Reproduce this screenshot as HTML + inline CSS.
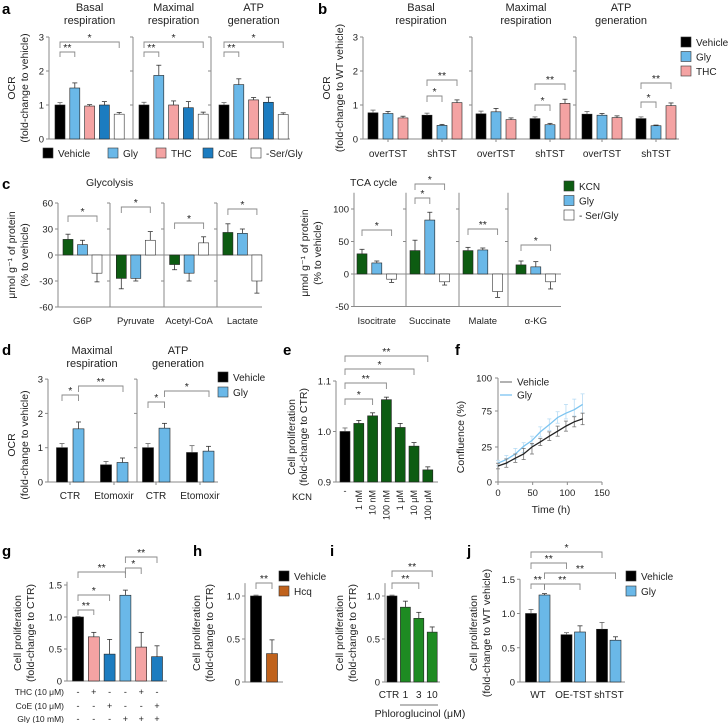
<!DOCTYPE html>
<html><head><meta charset="utf-8">
<style>
html,body{margin:0;padding:0;background:#fff;}
svg{display:block;font-family:"Liberation Sans",sans-serif;}
</style></head>
<body>
<svg id="fig" width="728" height="723" viewBox="0 0 728 723" xmlns="http://www.w3.org/2000/svg"></svg>
<script>
// ---------- DATA ----------
const aGroups = ["Basal respiration","Maximal respiration","ATP generation"];
const aSeries = ["Vehicle","Gly","THC","CoE","-Ser/Gly"];
const aValues = [[1.0,1.5,0.97,1.0,0.73],[1.0,1.87,1.0,0.92,0.73],[1.0,1.6,1.15,1.08,0.72]];
const aErrors = [[0.07,0.15,0.04,0.1,0.05],[0.08,0.3,0.12,0.18,0.06],[0.07,0.17,0.07,0.15,0.05]];
const aTicks = [0,1,2,3];

const bCats = ["overTST","shTST"];
const bSeries = ["Vehicle","Gly","THC"];
const bValues = [[[0.77,0.75,0.62],[0.7,0.4,1.07]],[[0.74,0.8,0.57],[0.6,0.42,1.05]],[[0.73,0.7,0.63],[0.6,0.39,0.98]]];
const bErrors = [[[0.08,0.06,0.05],[0.06,0.03,0.08]],[[0.08,0.1,0.05],[0.05,0.04,0.12]],[[0.08,0.05,0.05],[0.05,0.02,0.08]]];

const cGlyCats = ["G6P","Pyruvate","Acetyl-CoA","Lactate"];
const cGlyValues = [[18,12,-21],[-27,-27,17],[-11,-21,14],[26,25,-30]];
const cGlyErrors = [[6,5,10],[12,3,10],[6,9,7],[10,5,14]];
const cGlyTicks = [60,30,0,-30,-60];
const cTcaCats = ["Isocitrate","Succinate","Malate","α-KG"];
const cTcaValues = [[31,17,-8],[36,83,-12],[36,37,-27],[14,11,-12]];
const cTcaErrors = [[7,3,5],[16,12,5],[5,3,9],[6,8,11]];
const cTcaTicks = [100,50,0,-50];
const cSeries = ["KCN","Gly","- Ser/Gly"];

const dPanels = ["Maximal respiration","ATP generation"];
const dCats = ["CTR","Etomoxir"];
const dValues = [[[1.0,1.55],[0.5,0.57]],[[1.0,1.57],[0.86,0.9]]];
const dErrors = [[[0.12,0.2],[0.1,0.13]],[[0.12,0.14],[0.2,0.14]]];
const dTicks = [0,1,2,3];

const eCats = ["-","1 nM","10 nM","100 nM","1 μM","10 μM","100 μM"];
const eValues = [1.0,1.016,1.031,1.063,1.008,0.971,0.924];
const eErrors = [0.007,0.006,0.006,0.005,0.008,0.007,0.006];
const eTicks = [0.9,1.0,1.1];

const fTimes = [0,12,25,37,49,61,74,86,98,110,122];
const fVehicle = [11.4,13.5,17,20,25,32,40,47,54,60,64];
const fGly = [13.5,16,20,26,34,46,56,66,72,76,80];
const fVehErr = [2,3,3,4,5,5,6,7,7,7,8];
const fGlyErr = [2,3,4,5,6,7,8,8,8,8,8];
const fYTicks = [0,25,75,100];
const fXTicks = [0,50,100,150];

const gValues = [1.0,0.69,0.42,1.34,0.53,0.38];
const gErrors = [0.01,0.07,0.23,0.08,0.23,0.17];
const gTHC = ["-","+","-","-","+","-"];
const gCoE = ["-","-","+","-","-","+"];
const gGly = ["-","-","-","+","+","+"];
const gTicks = [0,0.5,1.0,1.5];

const hValues = [1.0,0.33];
const hErrors = [0.01,0.16];
const hTicks = [0,0.5,1.0];

const iCats = ["CTR","1","3","10"];
const iValues = [1.0,0.87,0.74,0.58];
const iErrors = [0.01,0.07,0.07,0.06];
const iTicks = [0,0.5,1.0];

const jCats = ["WT","OE-TST","shTST"];
const jValues = [[1.0,1.27],[0.69,0.73],[0.77,0.61]];
const jErrors = [[0.06,0.02],[0.03,0.09],[0.1,0.05]];
const jTicks = [0,0.5,1.0,1.5];

// ---------- HELPERS ----------
const NS = "http://www.w3.org/2000/svg";
const svg = document.getElementById('fig');
const AX = "#8a8a8a";
function mk(tag, a){ const e=document.createElementNS(NS,tag); for(const k in a) e.setAttribute(k,a[k]); svg.appendChild(e); return e; }
function lin(d0,d1,r0,r1){ return v => r0 + (v-d0)*(r1-r0)/(d1-d0); }
function txt(x,y,s,size,anchor,name,extra){
  const t = mk('text',{x:x,y:y,'font-size':size||9,'text-anchor':anchor||'middle',fill:'#222'});
  if(extra) for(const k in extra) t.setAttribute(k,extra[k]);
  t.textContent = s;
  
  
  return t;
}
function rtxt(x,y,s,size,name){
  return txt(x,y,s,size||10.5,'middle',name,{transform:'rotate(-90 '+x+' '+y+')','dominant-baseline':'central'});
}
function line(x1,y1,x2,y2,col,w,name){
  const l = mk('line',{x1:x1,y1:y1,x2:x2,y2:y2,stroke:col||AX,'stroke-width':w||1});
  
  
  return l;
}
function yAxis(x, yS, top, bottom, ticks, labels, name){
  line(x, yS(top), x, yS(bottom), AX, 1, name||'y-axis');
  ticks.forEach((t,i)=>{
    line(x-3, yS(t), x, yS(t), AX, 1, 'y-tick');
    if(labels) txt(x-5, yS(t)+3.5, String(labels[i]), 9.5, 'end', 'y-tick-label');
  });
}
function subAxis(x, yS, top, bottom, ticks){
  line(x, yS(top), x, yS(bottom), AX, 1, 'panel-divider-axis');
  ticks.forEach(t=>{ line(x-3, yS(t), x, yS(t), AX, 1, 'y-tick'); });
}
function bar(xc, w, v, base, err, yS, fill, name){
  const y1 = yS(Math.max(v,base)), y2 = yS(Math.min(v,base));
  const r = mk('rect',{x:xc-w/2, y:y1, width:w, height:Math.max(0.5,y2-y1), fill:fill, stroke:(fill==='#ffffff'?'#333':'#222'), 'stroke-width':0.6});
  
  
  if(err){
    const sgn = v>=base?1:-1;
    const ye = yS(v+sgn*err);
    const col = fill==='#000000'?'#666':'#333';
    line(xc, yS(v), xc, ye, col, 0.8, 'error-bar');
    line(xc-2.5, ye, xc+2.5, ye, col, 0.8, 'error-cap');
  }
  return r;
}
function bracket(x1,x2,y,star,drop){
  const p = mk('path',{d:'M'+x1+' '+(y+(drop||6))+' V'+y+' H'+x2+' V'+(y+(drop||6)),fill:'none',stroke:'#888','stroke-width':0.9});
  
  
  txt((x1+x2)/2, y-1, star, 10.5, 'middle', 'significance-stars');
}
function legSq(x,y,fill,label,name){
  const r = mk('rect',{x:x,y:y-5,width:10,height:10,fill:fill,stroke:'#333','stroke-width':0.6});
  
  
  txt(x+15, y+4, label, 10, 'start', name+'-label');
}
function panelLabel(x,y,s){ txt(x,y,s,15,'start','panel-label-'+s,{'font-weight':'bold',fill:'#000'}); }

const C = {veh:'#000000', gly:'#6ab8e8', thc:'#f4a3a3', coe:'#1c7cc0', ser:'#ffffff', kcn:'#0d5c12', green:'#1e8b22', hcq:'#c0621c'};

// ---------- PANEL A ----------
panelLabel(2,14,'a');
const aY = lin(0,3,139,37);
const aColors = [C.veh,C.gly,C.thc,C.coe,C.ser];
const aGroupX0 = [60,144,224], aStep = 14.8;
yAxis(49, aY, 3, 0, aTicks, aTicks, 'a-y-axis');
subAxis(133, aY, 3, 0, aTicks); subAxis(211, aY, 3, 0, aTicks);
line(49, aY(0), 290, aY(0), AX, 1, 'a-x-axis');
aValues.forEach((g,gi)=>{
  const words = aGroups[gi].split(' ');
  const cx = aGroupX0[gi] + 2*aStep;
  txt(cx, 11, words[0], 11, 'middle', 'a-group-title');
  txt(cx, 24, words[1], 11, 'middle', 'a-group-title');
  g.forEach((v,i)=>{ bar(aGroupX0[gi]+i*aStep, 10, v, 0, aErrors[gi][i], aY, aColors[i], 'a-bar-'+aSeries[i]); });
  bracket(aGroupX0[gi], aGroupX0[gi]+aStep, 52, '**', 5);
  bracket(aGroupX0[gi], aGroupX0[gi]+4*aStep, 42, '*', 6);
});
rtxt(12, 88, 'OCR', 10.5, 'a-y-title');
rtxt(25, 88, '(fold-change to vehicle)', 10.5, 'a-y-title');
const aLegX = [43,108,156,203,251];
aSeries.forEach((s,i)=>legSq(aLegX[i],153,aColors[i],s,'a-legend-'+i));

// ---------- PANEL B ----------
panelLabel(318,14,'b');
const bY = lin(0,3,139,37);
const bColors = [C.veh,C.gly,C.thc];
const bGroupX0 = [373,481,587], bStep = 15, bCatGap = 54;
yAxis(363, bY, 3, 0, aTicks, aTicks, 'b-y-axis');
subAxis(472, bY, 3, 0, aTicks); subAxis(576, bY, 3, 0, aTicks);
line(363, bY(0), 679, bY(0), AX, 1, 'b-x-axis');
const bTitleX = [421,526,621];
const bStarY = [[96,80],[105,84],[102,83]];
bValues.forEach((g,gi)=>{
  const words = aGroups[gi].split(' ');
  txt(bTitleX[gi], 11, words[0], 11, 'middle', 'b-group-title');
  txt(bTitleX[gi], 24, words[1], 11, 'middle', 'b-group-title');
  g.forEach((cat,ci)=>{
    const x0 = bGroupX0[gi] + ci*bCatGap;
    cat.forEach((v,si)=>bar(x0+si*bStep, 10, v, 0, bErrors[gi][ci][si], bY, bColors[si], 'b-bar-'+bSeries[si]));
    txt(x0+bStep, 157, bCats[ci], 10, 'middle', 'b-x-label');
    line(x0+bStep, bY(0), x0+bStep, bY(0)+3, AX, 1, 'x-tick');
  });
  const xs = bGroupX0[gi]+bCatGap;
  bracket(xs, xs+bStep, bStarY[gi][0], '*', 6);
  bracket(xs, xs+2*bStep, bStarY[gi][1], '**', 6);
});
rtxt(327, 88, 'OCR', 10.5, 'b-y-title');
rtxt(340, 88, '(fold-change to WT vehicle)', 10.5, 'b-y-title');
bSeries.forEach((s,i)=>legSq(681,42+i*14.5,bColors[i],s,'b-legend-'+i));

// ---------- PANEL C ----------
panelLabel(2,189,'c');
txt(86, 186, 'Glycolysis', 10.5, 'start', 'c-glycolysis-title');
txt(350, 186, 'TCA cycle', 10.5, 'start', 'c-tca-title');
const cColors = [C.kcn, C.gly, C.ser];
const cgY = lin(0,60,255,203);
yAxis(58, cgY, 60, -60, cGlyTicks, cGlyTicks, 'c-glycolysis-y-axis');
[110,164,217].forEach(x=>subAxis(x, cgY, 60, -60, cGlyTicks));
line(58, cgY(-60), 262, cgY(-60), AX, 1, 'c-gly-x-axis');
line(58, cgY(0), 262, cgY(0), AX, 1, 'c-gly-zero-line');
const cgStarY = [216,207,223,209];
cGlyValues.forEach((g,ci)=>{
  const x0 = 68 + ci*53.3;
  g.forEach((v,si)=>bar(x0+si*14.5, 10, v, 0, cGlyErrors[ci][si], cgY, cColors[si], 'c-gly-bar'));
  txt(x0+14.5, 324, cGlyCats[ci], 9.5, 'middle', 'c-gly-x-label');
  bracket(x0, x0+29, cgStarY[ci], '*', 6);
});
rtxt(12, 255, 'μmol g⁻¹ of protein', 10.5, 'c-gly-y-title');
rtxt(25, 255, '(% to vehicle)', 10.5, 'c-gly-y-title');

const ctY = lin(0,100,274,209);
yAxis(354, ctY, 125, -50, cTcaTicks, cTcaTicks, 'c-tca-y-axis');
[406,459,508].forEach(x=>subAxis(x, ctY, 125, -50, cTcaTicks));
line(354, ctY(-50), 561, ctY(-50), AX, 1, 'c-tca-x-axis');
line(354, ctY(0), 561, ctY(0), AX, 1, 'c-tca-zero-line');
cTcaValues.forEach((g,ci)=>{
  const x0 = 362 + ci*53;
  g.forEach((v,si)=>bar(x0+si*14.8, 10, v, 0, cTcaErrors[ci][si], ctY, cColors[si], 'c-tca-bar'));
  txt(x0+14.8, 324, cTcaCats[ci], 9.5, 'middle', 'c-tca-x-label');
});
bracket(362, 391.6, 230, '*', 6);
bracket(415, 429.8, 198, '*', 6);
bracket(415, 444.6, 184, '*', 6);
bracket(468, 497.6, 229, '**', 6);
bracket(521, 550.6, 245, '*', 6);
rtxt(305, 253, 'μmol g⁻¹ of protein', 10.5, 'c-tca-y-title');
rtxt(318, 253, '(% to vehicle)', 10.5, 'c-tca-y-title');
cSeries.forEach((s,i)=>legSq(564,186+i*14.5,cColors[i],s,'c-legend-'+i));

// ---------- PANEL D ----------
panelLabel(2,355,'d');
const dY = lin(0,1,482,447.7);
yAxis(48, dY, 3, 0, dTicks, dTicks, 'd-y-axis');
subAxis(137, dY, 3, 0, dTicks);
line(48, dY(0), 218, dY(0), AX, 1, 'd-x-axis');
const dColors = [C.veh, C.gly];
dValues.forEach((p,pi)=>{
  const words = dPanels[pi].split(' ');
  const tx = 92 + pi*86;
  txt(tx, 354, words[0], 11, 'middle', 'd-panel-title');
  txt(tx, 367, words[1], 11, 'middle', 'd-panel-title');
  p.forEach((c,ci)=>{
    const x0 = 62 + pi*86 + ci*44;
    c.forEach((v,si)=>bar(x0+si*16.5, 11, v, 0, dErrors[pi][ci][si], dY, dColors[si], 'd-bar'));
    txt(x0+8, 499, dCats[ci], 10, 'middle', 'd-x-label');
    line(x0+8, dY(0), x0+8, dY(0)+3, AX, 1, 'x-tick');
  });
});
bracket(62, 78.5, 395, '*', 6);
bracket(78.5, 123, 386, '**', 6);
bracket(148, 164.5, 402, '*', 6);
bracket(164.5, 209, 391, '*', 6);
rtxt(12, 445, 'OCR', 10.5, 'd-y-title');
rtxt(25, 445, '(fold-change to vehicle)', 10.5, 'd-y-title');
legSq(218, 377, C.veh, 'Vehicle', 'd-legend-vehicle');
legSq(218, 392, C.gly, 'Gly', 'd-legend-gly');

// ---------- PANEL E ----------
panelLabel(283,355,'e');
const eY = lin(0.9,1.1,482,381);
yAxis(336, eY, 1.1, 0.9, eTicks, ['0.9','1.0','1.1'], 'e-y-axis');
line(336, eY(0.9), 438, eY(0.9), AX, 1, 'e-x-axis');
eValues.forEach((v,i)=>{
  const x = 345 + i*13.8;
  bar(x, 10, v, 0.9, eErrors[i], eY, i===0?C.veh:C.kcn, 'e-bar');
  if(i===0) txt(x, 494, '-', 9, 'middle', 'e-x-label');
  else txt(x+3, 490, eCats[i], 9, 'end', 'e-x-label', {transform:'rotate(-90 '+(x+3)+' 490)'});
});
txt(302, 500, 'KCN', 9.5, 'middle', 'e-kcn-label');
bracket(345, 372.6, 399, '*', 6);
bracket(345, 386.4, 383, '**', 6);
bracket(345, 414, 369, '*', 6);
bracket(345, 427.8, 356, '**', 6);
rtxt(292, 437, 'Cell proliferation', 10.5, 'e-y-title');
rtxt(304, 437, '(fold-change to CTR)', 10.5, 'e-y-title');

// ---------- PANEL F ----------
panelLabel(455,355,'f');
const fX = lin(0,150,498,602);
function fY(v){ const kv=[0,25,75,100], kp=[482,447,411,378];
  for(let i=0;i<kv.length-1;i++){ if(v<=kv[i+1]||i===kv.length-2) return kp[i]+(v-kv[i])*(kp[i+1]-kp[i])/(kv[i+1]-kv[i]); } }
line(498, fY(100), 498, fY(0), AX, 1, 'f-y-axis');
line(498, fY(0), 602, fY(0), AX, 1, 'f-x-axis');
fYTicks.forEach(t=>{ line(495, fY(t), 498, fY(t), AX, 1, 'y-tick'); txt(492, fY(t)+3.5, String(t), 9.5, 'end', 'f-y-tick-label'); });
fXTicks.forEach(t=>{ line(fX(t), fY(0), fX(t), fY(0)+3, AX, 1, 'x-tick'); txt(fX(t), 496, String(t), 9.5, 'middle', 'f-x-tick-label'); });
txt(551, 513, 'Time (h)', 10.5, 'middle', 'f-x-title');
rtxt(461, 437, 'Confluence (%)', 10.5, 'f-y-title');
function fSeries(vals, errs, col, ecol, name){
  vals.forEach((v,i)=>{ const x=fX(fTimes[i]); line(x, fY(v-errs[i]), x, fY(v+errs[i]), ecol, 0.8, name+'-error');
    line(x-2, fY(v+errs[i]), x+2, fY(v+errs[i]), ecol, 0.8, name+'-cap'); line(x-2, fY(v-errs[i]), x+2, fY(v-errs[i]), ecol, 0.8, name+'-cap'); });
  const p = mk('polyline',{points: vals.map((v,i)=>fX(fTimes[i])+','+fY(v)).join(' '), fill:'none', stroke:col, 'stroke-width':1.3});
  
  
}
fSeries(fGly, fGlyErr, '#7cc4f0', '#b8dcf4', 'f-gly');
fSeries(fVehicle, fVehErr, '#222', '#777', 'f-vehicle');
line(500, 382, 512, 382, '#888', 1.3, 'f-legend-vehicle-line');
txt(517, 385.5, 'Vehicle', 10, 'start', 'f-legend-vehicle');
line(500, 395, 512, 395, '#7cc4f0', 1.3, 'f-legend-gly-line');
txt(517, 398.5, 'Gly', 10, 'start', 'f-legend-gly');

// ---------- PANEL G ----------
panelLabel(2,556,'g');
const gY = lin(0,1,681,617);
yAxis(67, gY, 1.55, 0, gTicks, ['0','0.5','1.0','1.5'], 'g-y-axis');
line(67, gY(0), 167, gY(0), AX, 1, 'g-x-axis');
const gColors = [C.veh,C.thc,C.coe,C.gly,C.thc,C.coe];
gValues.forEach((v,i)=>{
  const x = 78 + i*15.8;
  bar(x, 11, v, 0, gErrors[i], gY, gColors[i], 'g-bar');
  txt(x, 695, gTHC[i], 9, 'middle', 'g-thc-mark');
  txt(x, 709, gCoE[i], 9, 'middle', 'g-coe-mark');
  txt(x, 722, gGly[i], 9, 'middle', 'g-gly-mark');
});
txt(64, 695, 'THC (10 μM)', 8.5, 'end', 'g-thc-label');
txt(64, 709, 'CoE (10 μM)', 8.5, 'end', 'g-coe-label');
txt(64, 722, 'Gly (10 mM)', 8.5, 'end', 'g-gly-label');
bracket(78, 93.8, 610, '**', 5);
bracket(78, 109.6, 595, '*', 6);
bracket(78, 125.4, 572, '**', 6);
bracket(125.4, 141.2, 568, '*', 6);
bracket(125.4, 157, 557, '**', 6);
rtxt(18, 633, 'Cell proliferation', 10.5, 'g-y-title');
rtxt(31, 633, '(fold-change to CTR)', 10.5, 'g-y-title');

// ---------- PANEL H ----------
panelLabel(193,556,'h');
const hY = lin(0,1,682,596);
yAxis(245, hY, 1.15, 0, hTicks, ['0','0.5','1.0'], 'h-y-axis');
line(245, hY(0), 283, hY(0), AX, 1, 'h-x-axis');
hValues.forEach((v,i)=>bar(256+i*16, 11, v, 0, hErrors[i], hY, i===0?C.veh:C.hcq, 'h-bar'));
bracket(256, 272, 583, '**', 6);
rtxt(197, 633, 'Cell proliferation', 10.5, 'h-y-title');
rtxt(210, 633, '(fold-change to CTR)', 10.5, 'h-y-title');
legSq(279, 576, C.veh, 'Vehicle', 'h-legend-vehicle');
legSq(279, 591, C.hcq, 'Hcq', 'h-legend-hcq');

// ---------- PANEL I ----------
panelLabel(330,556,'i');
const iY = lin(0,1,682,596);
yAxis(385, iY, 1.15, 0, iTicks, ['0','0.5','1.0'], 'i-y-axis');
line(385, iY(0), 440, iY(0), AX, 1, 'i-x-axis');
iValues.forEach((v,i)=>{
  const x = 392 + i*13.4;
  bar(x, 10, v, 0, iErrors[i], iY, i===0?C.veh:C.green, 'i-bar');
  txt(x+(i===0?-3:0), 698, iCats[i], 10, 'middle', 'i-x-label');
});
line(400, 705, 438, 705, '#444', 0.8, 'i-group-underline');
txt(420, 717, 'Phloroglucinol (μM)', 10.5, 'middle', 'i-x-title');
bracket(392, 418.8, 583, '**', 6);
bracket(392, 432.2, 571, '**', 6);
rtxt(340, 633, 'Cell proliferation', 10.5, 'i-y-title');
rtxt(353, 633, '(fold-change to CTR)', 10.5, 'i-y-title');

// ---------- PANEL J ----------
panelLabel(467,556,'j');
const jY = lin(0,1,682,613.5);
yAxis(520, jY, 1.5, 0, jTicks, ['0','0.5','1.0','1.5'], 'j-y-axis');
line(520, jY(0), 625, jY(0), AX, 1, 'j-x-axis');
jValues.forEach((g,gi)=>{
  const x0 = 531 + gi*35.5;
  g.forEach((v,si)=>bar(x0+si*13.5, 11, v, 0, jErrors[gi][si], jY, si===0?C.veh:C.gly, 'j-bar'));
  txt(x0+7, 698, jCats[gi], 10, 'middle', 'j-x-label');
});
bracket(531, 544.5, 584, '**', 5);
bracket(544.5, 580, 584, '**', 6);
bracket(544.5, 615.5, 573, '**', 6);
bracket(531, 566.5, 563, '**', 6);
bracket(531, 602, 552, '*', 6);
rtxt(474, 633, 'Cell proliferation', 10.5, 'j-y-title');
rtxt(487, 633, '(fold-change to WT vehicle)', 10.5, 'j-y-title');
legSq(626, 576, C.veh, 'Vehicle', 'j-legend-vehicle');
legSq(626, 591, C.gly, 'Gly', 'j-legend-gly');
</script>
</body></html>
